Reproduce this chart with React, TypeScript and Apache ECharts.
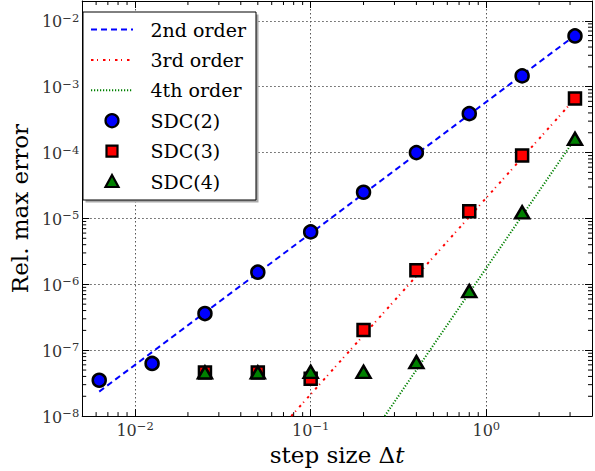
import React, { useEffect, useRef } from "react";
import * as echarts from "echarts";

// ---- data ----
const DT = [3.2, 1.6, 0.8, 0.4, 0.2, 0.1, 0.05, 0.025, 0.0125, 0.00625];
const SDC2 = [5.9e-3, 1.46e-3, 3.9e-4, 1.0e-4, 2.5e-5, 6.25e-6, 1.53e-6, 3.6e-7, 6.3e-8, 3.5e-8];
const SDC3 = [6.6e-4, 9.0e-5, 1.29e-5, 1.63e-6, 2.03e-7, 3.7e-8, 4.6e-8, 4.6e-8];
const SDC4 = [1.62e-4, 1.24e-5, 7.9e-7, 6.6e-8, 4.7e-8, 4.7e-8, 4.6e-8, 4.6e-8];

const ORDER2_X = [0.00625, 3.2];
const ORDER2_Y = [2.35e-8, 6.0e-3];
const ORDER3_X = [0.0775, 3.2];
const ORDER3_Y = [1.0e-8, 6.6e-4];
const ORDER4_X = [0.264, 3.2];
const ORDER4_Y = [1.0e-8, 1.62e-4];

const SERIES_NAMES = ["2nd order", "3rd order", "4th order", "SDC(2)", "SDC(3)", "SDC(4)"];
const X_NAME = "step size Δ";
const X_NAME_ITALIC = "t";
const Y_NAME = "Rel. max error";

const X_MIN = 0.005;
const X_MAX = 4;
const Y_MIN = 1e-8;
const Y_MAX = 0.02;

const MINOR_MULT = [2, 3, 4, 5, 6, 7, 8, 9];
const X_DECADES = [-3, -2, -1, 0];
const Y_DECADES = [-8, -7, -6, -5, -4, -3, -2];

const FONT = "DejaVu Serif";

const BLUE = "#0000ff";
const RED = "#ff0000";
const GREEN = "#008000";
const DASH2 = [6, 4];
const DASH3 = [2.5, 3.5, 1, 5];
const DASH4 = [1.2, 1.8];

function minorTicks(decades: number[], lo: number, hi: number): number[] {
  const out: number[] = [];
  decades.forEach((d) => {
    MINOR_MULT.forEach((m) => {
      const v = m * Math.pow(10, d);
      if (v > lo * 1.001 && v < hi * 0.999) out.push(v);
    });
  });
  return out;
}

const pairs = (xs: number[], ys: number[]) => ys.map((y, i) => [xs[i], y]);

const powLabel = (v: number) => {
  const e = Math.log10(v);
  const r = Math.round(e);
  if (Math.abs(e - r) > 1e-6) return "";
  return `{b|10}{s|${r < 0 ? "\u2212" : ""}${Math.abs(r)}}`;
};

const labelRich = {
  b: { fontFamily: FONT, fontSize: 16, color: "#333", lineHeight: 18, padding: [2, 0, 0, 0], verticalAlign: "bottom" },
  s: { fontFamily: FONT, fontSize: 11.5, color: "#333", lineHeight: 12, verticalAlign: "top" },
};

function buildLegend() {
  const boxX = 83;
  const boxY = 12;
  const boxW = 173;
  const boxH = 188;
  const rowY0 = 29.5;
  const rowStep = 30.4;
  const lineX1 = 91;
  const lineX2 = 133;
  const markX = 112;
  const textX = 150.5;
  const els: any[] = [
    { type: "rect", z: 5, silent: true, shape: { x: boxX + 2.5, y: boxY + 2.5, width: boxW, height: boxH }, style: { fill: "#aaa" } },
    { type: "rect", z: 6, silent: true, shape: { x: boxX, y: boxY, width: boxW, height: boxH }, style: { fill: "#fff", stroke: "#000", lineWidth: 1 } },
  ];
  const lineStyles = [
    { stroke: BLUE, lineDash: DASH2 },
    { stroke: RED, lineDash: DASH3 },
    { stroke: GREEN, lineDash: DASH4 },
  ];
  SERIES_NAMES.forEach((name, i) => {
    const y = rowY0 + i * rowStep;
    if (i < 3) {
      els.push({
        type: "line",
        z: 7,
        silent: true,
        shape: { x1: lineX1, y1: y, x2: lineX2, y2: y },
        style: { ...lineStyles[i], lineWidth: 2 },
      });
    } else if (i === 3) {
      els.push({ type: "circle", z: 7, silent: true, shape: { cx: markX, cy: y, r: 6.5 }, style: { fill: BLUE, stroke: "#000", lineWidth: 2.2 } });
    } else if (i === 4) {
      els.push({ type: "rect", z: 7, silent: true, shape: { x: markX - 5.5, y: y - 5.5, width: 11, height: 11 }, style: { fill: RED, stroke: "#000", lineWidth: 2.2 } });
    } else {
      els.push({
        type: "polygon",
        z: 7,
        silent: true,
        shape: { points: [[markX, y - 6.5], [markX + 6.5, y + 5.5], [markX - 6.5, y + 5.5]] },
        style: { fill: GREEN, stroke: "#000", lineWidth: 2.2, lineJoin: "miter" },
      });
    }
    els.push({
      type: "text",
      z: 7,
      silent: true,
      style: { text: name, x: textX, y: y, fontFamily: FONT, fontSize: 19, fill: "#000", verticalAlign: "middle", align: "left" },
    });
  });
  return els;
}

export default function App() {
  const ref = useRef<HTMLDivElement>(null);

  useEffect(() => {
    if (!ref.current) return;
    const chart = echarts.init(ref.current, undefined, { renderer: "svg" });

    const minorX = minorTicks(X_DECADES, X_MIN, X_MAX);
    const minorY = minorTicks(Y_DECADES, Y_MIN, Y_MAX);
    const tickStyle = { stroke: "#000", lineWidth: 1 };

    const option: any = {
      animation: false,
      backgroundColor: "#fff",
      grid: { left: 72, right: -2, top: 1, bottom: 50, containLabel: false },
      xAxis: [
        {
          type: "log",
          logBase: 10,
          min: X_MIN,
          max: X_MAX,
          position: "bottom",
          name: `{a|${X_NAME}}{i|${X_NAME_ITALIC}}`,
          nameLocation: "middle",
          nameGap: 25,
          nameTextStyle: {
            rich: {
              a: { fontFamily: FONT, fontSize: 23, color: "#000" },
              i: { fontFamily: FONT, fontSize: 23, color: "#000", fontStyle: "italic" },
            },
          },
          axisLine: { show: true, lineStyle: { color: "#000", width: 1 } },
          axisTick: { show: true, inside: true, length: 7, lineStyle: { color: "#000", width: 1 } },
          minorTick: { show: false },
          axisLabel: { formatter: powLabel, margin: 4, rich: labelRich },
          splitLine: { show: true, lineStyle: { color: "#555", width: 1, type: [1.5, 2.5] } },
        },
        {
          type: "log",
          logBase: 10,
          min: X_MIN,
          max: X_MAX,
          position: "top",
          axisLine: { show: true, lineStyle: { color: "#000", width: 1 } },
          axisTick: { show: true, inside: true, length: 7, lineStyle: { color: "#000", width: 1 } },
          axisLabel: { show: false },
          splitLine: { show: false },
        },
      ],
      yAxis: [
        {
          type: "log",
          logBase: 10,
          min: Y_MIN,
          max: Y_MAX,
          position: "left",
          name: Y_NAME,
          nameLocation: "middle",
          nameRotate: 90,
          nameGap: 37,
          nameTextStyle: { fontFamily: FONT, fontSize: 23, color: "#000" },
          axisLine: { show: true, lineStyle: { color: "#000", width: 1 } },
          axisTick: { show: true, inside: true, length: 7, lineStyle: { color: "#000", width: 1 } },
          minorTick: { show: false },
          axisLabel: { formatter: powLabel, margin: 3, rich: labelRich },
          splitLine: { show: true, lineStyle: { color: "#555", width: 1, type: [1.5, 2.5] } },
        },
        {
          type: "log",
          logBase: 10,
          min: Y_MIN,
          max: Y_MAX,
          position: "right",
          axisLine: { show: true, lineStyle: { color: "#000", width: 1 } },
          axisTick: { show: true, inside: true, length: 7, lineStyle: { color: "#000", width: 1 } },
          axisLabel: { show: false },
          splitLine: { show: false },
        },
      ],
      graphic: buildLegend(),
      series: [
        {
          name: SERIES_NAMES[0],
          type: "line",
          data: pairs(ORDER2_X, ORDER2_Y),
          symbol: "none",
          clip: true,
          lineStyle: { color: BLUE, width: 2, type: DASH2 },
          itemStyle: { color: BLUE },
          z: 2,
        },
        {
          name: SERIES_NAMES[1],
          type: "line",
          data: pairs(ORDER3_X, ORDER3_Y),
          symbol: "none",
          clip: true,
          lineStyle: { color: RED, width: 2, type: DASH3 },
          itemStyle: { color: RED },
          z: 2,
        },
        {
          name: SERIES_NAMES[2],
          type: "line",
          data: pairs(ORDER4_X, ORDER4_Y),
          symbol: "none",
          clip: true,
          lineStyle: { color: GREEN, width: 2, type: DASH4 },
          itemStyle: { color: GREEN },
          z: 2,
        },
        {
          name: SERIES_NAMES[3],
          type: "scatter",
          data: pairs(DT, SDC2),
          symbol: "circle",
          symbolSize: 13,
          itemStyle: { color: BLUE, borderColor: "#000", borderWidth: 2.5, opacity: 1 },
          z: 3,
        },
        {
          name: SERIES_NAMES[4],
          type: "scatter",
          data: pairs(DT, SDC3),
          symbol: "rect",
          symbolSize: 12,
          itemStyle: { color: RED, borderColor: "#000", borderWidth: 2.5, opacity: 1 },
          z: 3,
        },
        {
          name: SERIES_NAMES[5],
          type: "scatter",
          data: pairs(DT, SDC4),
          symbol: "triangle",
          symbolSize: [14, 12],
          itemStyle: { color: GREEN, borderColor: "#000", borderWidth: 2.5, opacity: 1 },
          z: 3,
        },
        {
          type: "custom",
          silent: true,
          z: 4,
          data: minorX.map((v) => [v, Y_MIN]),
          renderItem: (params: any, api: any) => {
            const p = api.coord([api.value(0), Y_MIN]);
            const cs = params.coordSys;
            return {
              type: "group",
              children: [
                { type: "line", shape: { x1: p[0], y1: cs.y + cs.height, x2: p[0], y2: cs.y + cs.height - 4 }, style: tickStyle },
                { type: "line", shape: { x1: p[0], y1: cs.y, x2: p[0], y2: cs.y + 4 }, style: tickStyle },
              ],
            };
          },
        },
        {
          type: "custom",
          silent: true,
          z: 4,
          data: minorY.map((v) => [X_MIN, v]),
          renderItem: (params: any, api: any) => {
            const p = api.coord([X_MIN, api.value(1)]);
            const cs = params.coordSys;
            return {
              type: "group",
              children: [
                { type: "line", shape: { x1: cs.x, y1: p[1], x2: cs.x + 4, y2: p[1] }, style: tickStyle },
                { type: "line", shape: { x1: cs.x + cs.width, y1: p[1], x2: cs.x + cs.width - 4, y2: p[1] }, style: tickStyle },
              ],
            };
          },
        },
      ],
    };

    chart.setOption(option);
    return () => chart.dispose();
  }, []);

  return (
    <div
      ref={ref}
      style={{ position: "fixed", left: 0, top: 0, width: 595, height: 471, background: "#fff" }}
    />
  );
}
